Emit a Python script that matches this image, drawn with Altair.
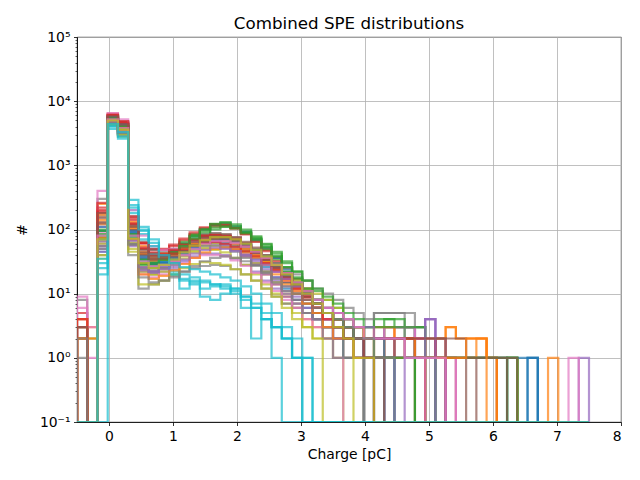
import altair as alt
import pandas as pd

# common histogram binning: edges at -0.5 + 0.16*k
bin_start = -0.5
bin_width = 0.16
n_bins = 50

title_text = "Combined SPE distributions"

# counts per bin (bin 0 starts at -0.5 pC); trailing bins are empty
s01 = [0,0,45,5200,3900,80,30,28,32,40,52,64,72,75,70,62,50,40,30,22,15,10,7,5,3,3,2,1,1,0,1]
s02 = [3,0,120,4800,3300,110,45,38,40,46,55,62,66,63,58,48,38,28,20,14,9,6,4,3,2,2,1,1,0,0,0,0,0,0,0,0,0,0,0,0,0,0,0,0,0,0,1]
s03 = [0,0,80,5600,4200,70,28,25,30,38,50,66,85,100,110,105,92,75,60,45,32,22,16,11,8,6,4,3,2,2,1,2,3,1,0,0,0,0,0,0,0,0,1]
s04 = [5,0,200,6200,4600,140,60,48,48,55,68,84,100,112,115,105,88,68,50,36,25,17,12,8,5,4,3,2,2,2,1,2,2]
s05 = [0,0,60,4500,3100,60,22,20,22,26,32,38,42,42,40,35,28,22,16,12,9,7,5,4,3,2,2,1,1,1,0,1,0,0,0,0,0,0,0,0,0,0,0,0,0,0,0,0,0,1]
s06 = [2,0,150,5800,4300,120,50,40,42,46,56,68,78,80,75,65,52,40,30,22,15,10,7,5,4,3,2,2,1,1,1,1,1,1,2,2,1,0,1]
s07 = [0,0,90,5100,3700,95,38,32,34,40,50,60,70,74,70,62,50,40,30,22,16,12,8,6,4,3,2,2,1,2,0,3,3,1,1,0,1,0,0,0,0,0,0,0,0,0,0,0,1]
s08 = [8,2,300,6000,4800,160,65,48,45,50,60,72,84,88,84,75,62,50,40,30,22,16,12,8,6,5,4,3,3,5,5,5,1,3,1]
s09 = [2,0,35,4200,2800,50,22,20,24,30,38,46,50,48,44,36,28,20,14,10,7,5,3,2,2,1]
s10 = [0,0,0,3700,3000,290,110,70,40,22,12,15,9,8,10,12,6,2,4,1]
s11 = [0,0,55,5000,3600,75,30,27,30,36,46,58,66,68,64,56,45,35,26,18,12,8,6,4,3,2,1,1,0,1,0,0,0,0,0,0,0,0,0,0,0,0,0,0,1]
s12 = [3,3,250,5500,4000,130,55,42,42,46,54,64,72,75,72,64,54,44,34,26,18,13,9,7,5,4,3,2,2,1,3,2,2,2,1,1,3,2,2,2,1]
s13 = [0,0,100,5300,3900,85,35,32,38,48,64,84,104,120,118,106,86,66,48,34,22,15,10,7,5,4,3,3,2,2,4,4,3,0,1,0,0,0,0,0,0,0,1]
s14 = [4,0,180,5900,4400,120,50,40,40,46,56,68,78,82,80,72,60,48,38,28,20,14,10,7,5,4,3,2,2,2,2,2,2,2]
s15 = [0,0,70,4700,3400,65,26,23,27,33,42,52,60,62,58,50,40,30,22,16,11,8,5,4,3,2,2,1,1,1,1,1,1,2,4]
s16 = [0,0,130,5600,4100,100,42,36,38,44,54,66,76,80,78,70,58,46,36,26,18,12,8,6,4,3,2,2,1,1,1,2,2,1,1,2,1,1,1,1,1]
s17 = [6,1,110,5000,3500,90,36,30,32,38,48,58,66,70,68,60,50,40,32,24,17,12,9,7,5,4,3,2,2,3,3,3,3,2,1,2,1]
s18 = [0,0,40,4300,2900,40,12,14,16,19,22,25,27,28,27,24,20,16,12,9,7,6,5,4,3,2,1,1,0,1]
s19 = [2,2,60,4600,3200,58,24,20,22,28,35,44,52,56,54,48,40,30,22,15,10,7,5,4,3,3,2]
s20 = [3,0,25,4100,2600,200,85,50,30,20,16,14,12,13,14,12,9,6,4,3,2,1]
s21 = [0,0,70,5400,4000,90,36,34,38,46,60,78,100,118,125,112,92,70,52,36,24,15,10,7,4,3,2,2,1,1,1,1,1,1,1,1,1,1,1,1,1,1,0,0,1]
s22 = [2,0,140,5700,4200,105,42,35,36,42,52,62,70,72,70,62,52,42,32,24,17,12,8,6,5,4,3,2,2,2,2,2,1,1,1,2,3,2,2,2,1]
s23 = [0,0,85,5200,3800,80,32,30,35,44,60,80,100,118,125,112,92,72,54,38,26,17,11,8,5,4,3,3,3,4,4,3,3,3,0,1,0,0,0,0,0,0,1]
s24 = [3,0,220,6400,4700,150,62,50,50,58,72,90,108,120,118,104,84,64,46,32,21,14,9,6,4,3,2,2,2,2,2,2,2,1]
s25 = [0,0,50,4400,3000,55,23,21,25,31,40,50,58,60,56,48,38,28,20,14,10,7,5,4,4,3,3,2,2,2,3,3,3,2,4,1]
s26 = [0,0,160,5900,4400,115,48,38,40,46,56,68,80,86,84,76,64,52,40,30,21,15,11,8,6,5,4,3,2,2,2,2,2,1,1,2,2,2,1,1,1,1]
s27 = [9,3,400,6500,5200,200,80,55,48,50,56,64,70,72,68,60,50,40,30,22,16,11,8,6,4,3,3,2,2,2,3,3,3,2]
s28 = [0,0,75,5000,3600,70,30,26,29,35,45,56,66,70,68,60,50,42,36,30,25,20,16,12,10,8,6,5,4,5,5,5,5,3,2,1]
s29 = [2,0,65,4800,3400,62,26,22,25,32,40,50,58,62,60,54,46,38,32,26,20,16,12,10,8,6,4,3,2,1,1,1,1,1,1,1,1,1,1,1,1,1,1]
s30 = [0,0,30,4300,3100,240,95,55,32,24,20,18,16,14,12,10,8,6,4,3,2,1,1]
s31 = [0,0,95,5600,4100,88,34,29,31,37,47,58,68,72,70,64,54,44,34,26,19,14,10,7,5,4,3,2,2,2,1,1,1,1,1,1,1,1,1,1,1,1,1,1,1]
s32 = [4,2,170,5300,3900,100,40,33,34,40,50,60,68,70,67,60,50,40,31,23,16,11,8,6,5,4,3,3,2,3,3,2,2,1,1,1,1,1,1,2,1]
s33 = [0,0,75,5000,3700,72,29,28,34,44,58,78,100,122,130,120,100,78,58,42,30,22,16,12,9,7,5,4,3,3,3,3,3,3,1,1,1,1,1,1,1,1,1]
s34 = [2,0,190,6000,4500,125,52,42,42,48,58,70,80,82,78,68,56,44,34,25,18,13,9,7,5,4,3,2,2,2,2,2,2,2,2,1]
s35 = [0,0,45,4600,3200,58,24,22,26,33,43,54,62,64,60,52,42,32,24,18,13,9,6,4,3,2,2,1,1,1,1,1,1,1,4,1]
s36 = [0,0,125,5500,4000,98,40,34,36,42,52,64,74,78,76,68,56,44,34,25,18,13,9,6,5,4,3,2,2,2,2,2,2,2,2,2,1,1,1,1,1,1,1]
s37 = [0,0,55,4700,3300,70,20,18,20,24,30,36,40,40,38,33,27,21,15,11,8,6,4,3,2,1]
s38 = [1,0,50,4500,3100,60,25,22,25,31,40,49,55,56,52,45,36,28,21,15,11,8,5,4,2,1,1,2]
s39 = [0,0,40,4400,3000,45,14,14,16,20,25,29,31,30,28,24,20,16,12,9,6,4,3,2]
s40 = [0,0,20,4000,2800,180,70,42,28,20,17,16,15,14,13,11,9,7,5,3,2,1]
s41 = [0,0,110,5700,4300,95,38,30,30,34,42,52,62,68,70,66,58,48,38,28,20,14,10,7,5,3,2,2,1,1,1]
s42 = [2,0,75,4900,3500,70,20,17,19,23,29,36,44,50,52,50,44,36,28,20,14,10,7,5,3,2,2,1,1,1,1,1,1,1,1,1,1,1,2,2]
s43 = [0,0,95,5500,4100,85,34,30,34,42,55,72,92,108,112,104,88,70,52,38,26,18,12,8,5,4,3,2,2,1,1,1,1]
s44 = [4,0,260,6100,4900,160,62,44,40,42,48,56,62,64,60,54,46,38,30,23,17,12,8,6,4,3,2,2,1]
s45 = [0,0,65,4800,3400,68,26,22,24,28,34,42,48,52,50,46,40,34,28,22,17,13,10,8,6,5,4,3,3,2,2,2,1,1,1]
s46 = [3,0,180,5800,4300,110,44,35,35,38,46,56,66,72,72,66,56,46,36,27,20,14,10,7,5,3,2,2,1,1]
s47 = [0,0,80,5200,3800,80,32,27,28,32,40,50,60,66,66,62,54,45,36,28,21,15,11,8,6,5,4,3,2,2,2,2,1,1,1,1]
s48 = [2,0,55,4600,3200,58,18,15,16,18,22,27,32,36,38,36,32,27,22,17,13,10,8,6,5,4,3,2,2,1,1]
s49 = [0,0,70,5000,3600,72,30,25,28,34,44,56,68,76,76,70,60,48,38,28,20,14,10,7,5,3,2,1,1]
s50 = [0,0,35,4400,3300,220,100,62,40,30,26,24,22,20,18,16,13,10,7,5,3,2,1]

series = [s01, s02, s03, s04, s05, s06, s07, s08, s09, s10,
          s11, s12, s13, s14, s15, s16, s17, s18, s19, s20,
          s21, s22, s23, s24, s25, s26, s27, s28, s29, s30,
          s31, s32, s33, s34, s35, s36, s37, s38, s39, s40,
          s41, s42, s43, s44, s45, s46, s47, s48, s49, s50]

palette = ["#1f77b4", "#ff7f0e", "#2ca02c", "#d62728", "#9467bd",
           "#8c564b", "#e377c2", "#7f7f7f", "#bcbd22", "#17becf"]

major_ticks = [0.1, 1, 10, 100, 1000, 10000, 100000]
minor_ticks = [m * 10.0 ** e for e in range(-1, 5) for m in range(2, 10)]
x_ticks = [0, 1, 2, 3, 4, 5, 6, 7, 8]

floor = 0.1
edges = [bin_start + bin_width * k for k in range(n_bins + 1)]
rows = []
for idx, counts in enumerate(series):
    c = list(counts) + [0] * (n_bins - len(counts))
    pts = [(edges[0], floor)]
    for i, v in enumerate(c):
        val = max(v, floor)
        pts.append((edges[i], val))
        pts.append((edges[i + 1], val))
    pts.append((edges[-1], floor))
    for j, (x, y) in enumerate(pts):
        rows.append({"series": f"s{idx+1:02d}", "x": x, "y": y, "order": j,
                     "color": palette[idx % 10]})
df = pd.DataFrame(rows)
minor_df = pd.DataFrame({"v": minor_ticks})
title_df = pd.DataFrame({"t": [title_text]})

FONT = "DejaVu Sans"
yscale = alt.Scale(type="log", domain=[0.1, 100000], nice=False)

lines = alt.Chart(df).mark_line(strokeWidth=2.2, opacity=0.7, clip=True,
                                strokeJoin="miter").encode(
    x=alt.X("x:Q", scale=alt.Scale(domain=[-0.5, 8], nice=False, zero=False),
            axis=alt.Axis(values=x_ticks, title="Charge [pC]", format="d",
                          titlePadding=5)),
    y=alt.Y("y:Q", scale=yscale,
            axis=alt.Axis(values=major_ticks, title="#", orient="left",
                          labelExpr="['10⁻¹','10⁰','10¹','10²','10³','10⁴','10⁵'][round(log(datum.value)/LN10)+1]",
                          titlePadding=10)),
    color=alt.Color("color:N", scale=None),
    detail="series:N",
    order="order:Q",
)

minor = alt.Chart(minor_df).mark_point(opacity=0).encode(
    y=alt.Y("v:Q", scale=yscale,
            axis=alt.Axis(values=minor_ticks, labels=False, grid=False, domain=False,
                          tickSize=2, tickWidth=0.6, orient="left", title=None)),
)

title = alt.Chart(title_df).mark_text(
    font=FONT, fontSize=16.7, color="black", align="center", baseline="alphabetic"
).encode(text="t:N", x=alt.value(272), y=alt.value(-8))

chart = alt.layer(lines, minor, title).resolve_axis(y="independent").properties(
    width=544, height=385,
    autosize=alt.AutoSizeParams(type="none"),
    padding={"left": 69, "top": 29, "right": 11, "bottom": 50},
).configure_axis(
    labelFont=FONT, titleFont=FONT, labelFontSize=13.9, titleFontSize=13.9,
    titleFontWeight="normal", labelColor="black", titleColor="black",
    domainColor="black", domainWidth=0.8, tickColor="black", tickWidth=0.8,
    tickSize=3.5, labelPadding=3.5, gridColor="#b0b0b0", gridWidth=0.8,
    zindex=1,
).configure_view(stroke="black", strokeWidth=0.8)

chart.save("out.html", embed_options={"renderer": "svg", "actions": False})
